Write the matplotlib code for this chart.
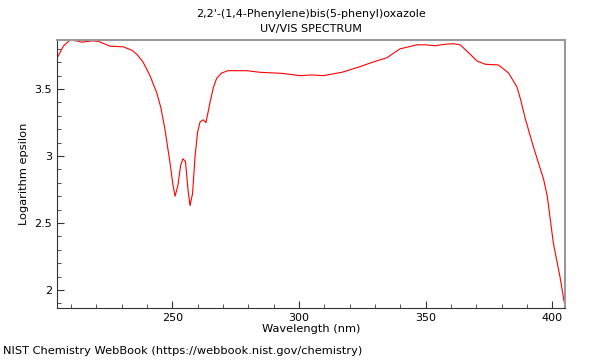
import matplotlib
matplotlib.use('Agg')
import matplotlib.pyplot as plt
from matplotlib.ticker import MultipleLocator, FormatStrFormatter

# spectrum
wavelength = [204.5, 207.0, 209.6, 212.0, 214.3, 216.5, 218.5, 221.0, 225.4, 230.7,
              234.0, 236.0, 238.5, 241.2, 243.9, 245.5, 247.1, 249.1, 250.3, 251.1,
              252.2, 253.3, 254.2, 255.2, 256.2, 257.0, 258.0, 259.0, 260.0, 261.0,
              262.2, 263.3, 264.9, 266.2, 267.5, 269.5, 272.0, 279.4, 284.6, 293.4,
              300.4, 305.0, 309.6, 316.9, 324.1, 329.0, 334.7, 339.9, 346.5, 350.0,
              353.7, 358.0, 361.0, 363.6, 367.0, 370.2, 373.5, 378.7, 382.7, 386.0,
              387.5, 389.3, 392.5, 396.5, 398.0, 400.4, 403.0, 405.0]
log_eps = [3.73, 3.82, 3.866, 3.86, 3.85, 3.855, 3.86, 3.855, 3.82, 3.815,
           3.79, 3.76, 3.70, 3.60, 3.47, 3.36, 3.20, 2.95, 2.78, 2.70,
           2.78, 2.93, 2.98, 2.96, 2.75, 2.63, 2.72, 3.00, 3.18, 3.256,
           3.27, 3.25, 3.40, 3.51, 3.58, 3.62, 3.637, 3.637, 3.625, 3.617,
           3.60, 3.605, 3.60, 3.625, 3.667, 3.70, 3.734, 3.80, 3.83, 3.83,
           3.823, 3.835, 3.838, 3.83, 3.77, 3.71, 3.685, 3.68, 3.62, 3.517,
           3.42, 3.28, 3.07, 2.83, 2.70, 2.35, 2.10, 1.875]

plt.rcParams['font.size'] = 8
fig = plt.figure(figsize=(6, 3.6), dpi=100)
ax = fig.add_axes([0.095, 0.1444, 0.8467, 0.7445])

ax.plot(wavelength, log_eps, color='red', lw=0.8)

ax.set_xlim(204.5, 405)
ax.set_ylim(1.866, 3.866)
ax.xaxis.set_major_locator(MultipleLocator(50))
ax.xaxis.set_minor_locator(MultipleLocator(10))
ax.yaxis.set_major_locator(MultipleLocator(0.5))
ax.yaxis.set_minor_locator(MultipleLocator(0.1))
ax.yaxis.set_major_formatter(FormatStrFormatter('%g'))
ax.tick_params(which='both', direction='in', top=False, right=False, color='#333333')
ax.tick_params(which='major', length=5)
ax.tick_params(which='minor', length=3)
for s in ['top', 'right']:
    ax.spines[s].set_color('#999999')
    ax.spines[s].set_linewidth(1.5)
for s in ['left', 'bottom']:
    ax.spines[s].set_color('#333333')

ax.set_xlabel('Wavelength (nm)', labelpad=1, fontsize=8.2)
ax.set_ylabel('Logarithm epsilon', fontsize=8.2)
ax.set_title("2,2'-(1,4-Phenylene)bis(5-phenyl)oxazole\nUV/VIS SPECTRUM", fontsize=8, linespacing=1.6)
fig.text(0.005, 0.018, 'NIST Chemistry WebBook (https://webbook.nist.gov/chemistry)', fontsize=8.2)

fig.savefig('out.png', dpi=100)
